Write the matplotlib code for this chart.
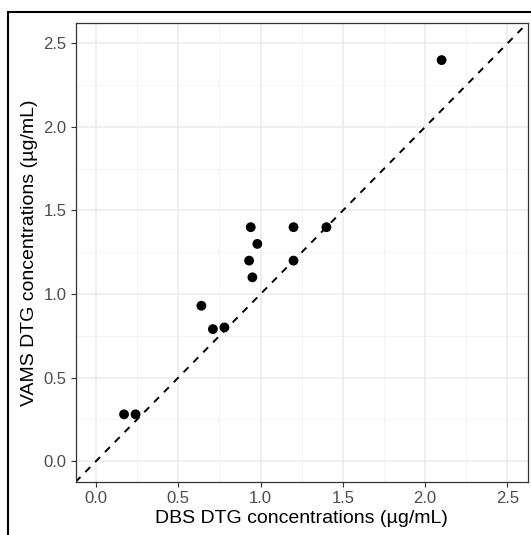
import matplotlib
matplotlib.use("Agg")
import matplotlib.pyplot as plt
from matplotlib.patches import Rectangle

# DBS vs VAMS DTG concentrations (ug/mL)
dbs = [0.17, 0.24, 0.64, 0.71, 0.78, 0.93, 0.95, 0.94, 0.98, 1.2, 1.2, 1.4, 2.1]
vams = [0.28, 0.28, 0.93, 0.79, 0.80, 1.2, 1.1, 1.4, 1.3, 1.2, 1.4, 1.4, 2.4]

ticks = [0.0, 0.5, 1.0, 1.5, 2.0, 2.5]
tick_labels = ["0.0", "0.5", "1.0", "1.5", "2.0", "2.5"]
minor = [0.25, 0.75, 1.25, 1.75, 2.25]

plt.rcParams['font.family'] = ['Liberation Sans', 'DejaVu Sans']

fig = plt.figure(figsize=(5.31, 5.35), dpi=100)
ax = fig.add_axes([75.5/531, 1-482/535, (528-75.5)/531, (482-22.5)/535])

lo, hi = -0.125, 2.625
ax.set_xlim(lo, hi)
ax.set_ylim(lo, hi)

# grid like theme_bw
for v in minor:
    ax.axvline(v, color="#F2F2F2", lw=0.6, zorder=0)
    ax.axhline(v, color="#F2F2F2", lw=0.6, zorder=0)
for v in ticks:
    ax.axvline(v, color="#EBEBEB", lw=1.1, zorder=0)
    ax.axhline(v, color="#EBEBEB", lw=1.1, zorder=0)

# identity line
ax.plot([lo, hi], [lo, hi], color="black", lw=1.4, dashes=(3.6, 3.6), zorder=2)

ax.scatter(dbs, vams, s=50, color="black", edgecolors="none", zorder=3)

ax.set_xticks(ticks)
ax.set_xticklabels(tick_labels)
ax.set_yticks(ticks)
ax.set_yticklabels(tick_labels)
ax.tick_params(length=3.5, width=0.8, color="#333333", labelcolor="#4D4D4D",
               labelsize=12, pad=3)
for s in ax.spines.values():
    s.set_color("#333333")
    s.set_linewidth(0.9)

ax.set_xlabel("DBS DTG concentrations (µg/mL)", fontsize=14, labelpad=3)
ax.set_ylabel("VAMS DTG concentrations (µg/mL)", fontsize=14, labelpad=4)

# outer black frame (cropped on right/bottom)
fig.patches.append(Rectangle((8/531, -0.2), 1.2, 1.2 - 11.5/535,
                             transform=fig.transFigure, fill=False,
                             edgecolor="black", lw=1.5))

fig.savefig("out.png", dpi=100)
